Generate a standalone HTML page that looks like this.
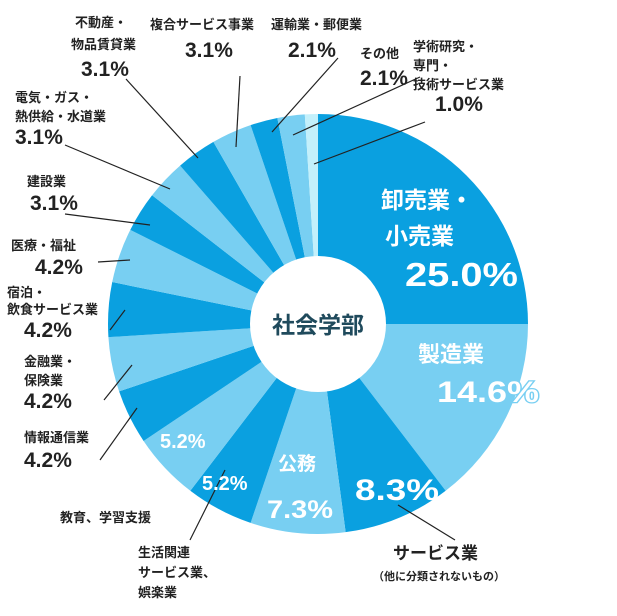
<!DOCTYPE html><html><head><meta charset="utf-8"><style>
body{margin:0;background:#fff;width:617px;height:616px;overflow:hidden}
svg{display:block}
text{font-family:"Liberation Sans","Noto Sans CJK JP",sans-serif;fill:#222;font-weight:bold}
.s{font-size:13px}.p{font-size:21px}
.w{fill:#fff}
</style></head><body>
<svg id="c" width="617" height="616" viewBox="0 0 617 616">
<g id="sl"></g>
<circle cx="318" cy="324" r="68" fill="#fff"/>
<text x="318" y="333" text-anchor="middle" style="font-size:23px;fill:#1f4a5c">社会学部</text>
<g stroke="#222" stroke-width="1.2" fill="none">
<line x1="314" y1="164" x2="425" y2="122"/>
<line x1="293" y1="135" x2="420" y2="77"/>
<line x1="272" y1="132" x2="338" y2="58"/>
<line x1="236" y1="147" x2="240" y2="76"/>
<line x1="198" y1="158" x2="126" y2="79"/>
<line x1="170" y1="189" x2="65" y2="145"/>
<line x1="150" y1="225" x2="65" y2="214"/>
<line x1="130" y1="260" x2="98" y2="262"/>
<line x1="125" y1="310" x2="110" y2="330"/>
<line x1="132" y1="365" x2="104" y2="400"/>
<line x1="137" y1="408" x2="100" y2="460"/>
<line x1="225" y1="470" x2="190" y2="540"/>
<line x1="398" y1="505" x2="455" y2="540"/>
</g>
<text x="75" y="27" class="s">不動産・</text>
<text x="71" y="49" class="s">物品賃貸業</text>
<text x="81" y="76" class="p">3.1%</text>
<text x="150" y="29" class="s">複合サービス事業</text>
<text x="185" y="57" class="p">3.1%</text>
<text x="271" y="29" class="s">運輸業・郵便業</text>
<text x="288" y="57" class="p">2.1%</text>
<text x="360" y="58" class="s">その他</text>
<text x="360" y="85" class="p">2.1%</text>
<text x="413" y="51" class="s">学術研究・</text>
<text x="413" y="70" class="s">専門・</text>
<text x="413" y="89" class="s">技術サービス業</text>
<text x="435" y="111" class="p">1.0%</text>
<text x="15" y="102" class="s">電気・ガス・</text>
<text x="15" y="121" class="s">熱供給・水道業</text>
<text x="15" y="144" class="p">3.1%</text>
<text x="27" y="186" class="s">建設業</text>
<text x="30" y="210" class="p">3.1%</text>
<text x="11" y="250" class="s">医療・福祉</text>
<text x="35" y="274" class="p">4.2%</text>
<text x="7" y="297" class="s">宿泊・</text>
<text x="7" y="314" class="s">飲食サービス業</text>
<text x="24" y="337" class="p">4.2%</text>
<text x="24" y="366" class="s">金融業・</text>
<text x="24" y="385" class="s">保険業</text>
<text x="24" y="408" class="p">4.2%</text>
<text x="24" y="442" class="s">情報通信業</text>
<text x="24" y="467" class="p">4.2%</text>
<text x="60" y="522" class="s">教育、学習支援</text>
<text x="138" y="557" class="s">生活関連</text>
<text x="138" y="577" class="s">サービス業、</text>
<text x="138" y="597" class="s">娯楽業</text>
<text x="393" y="559" style="font-size:17px">サービス業</text>
<text x="373" y="580" style="font-size:11px">（他に分類されないもの）</text>
<text x="381" y="208" class="w" style="font-size:23px">卸売業・</text>
<text x="385" y="244" class="w" style="font-size:23px">小売業</text>
<text x="405" y="286" class="w" style="font-size:33px" textLength="113" lengthAdjust="spacingAndGlyphs">25.0%</text>
<text x="418" y="362" class="w" style="font-size:22px">製造業</text>
<text x="437" y="402" class="w" style="font-size:30px;stroke:#78cff2;stroke-width:2.5;paint-order:stroke" textLength="102" lengthAdjust="spacingAndGlyphs">14.6%</text>
<text x="355" y="500" class="w" style="font-size:30px" textLength="84" lengthAdjust="spacingAndGlyphs">8.3%</text>
<text x="278" y="470" class="w" style="font-size:19px">公務</text>
<text x="267" y="518" class="w" style="font-size:25px" textLength="66" lengthAdjust="spacingAndGlyphs">7.3%</text>
<text x="202" y="490" class="w" style="font-size:20px">5.2%</text>
<text x="160" y="448" class="w" style="font-size:20px">5.2%</text>
</svg>
<script>
var v=[25,14.6,8.3,7.3,5.2,5.2,4.2,4.2,4.2,4.2,3.1,3.1,3.1,3.1,2.1,2.1,1.0];
var cx=318,cy=324,R=210,a=0,h='';
for(var i=0;i<v.length;i++){
var c=i==16?'#c3f0fb':(i%2?'#78cff2':'#0aa0e0');
var b=a+v[i]/100*2*Math.PI;
var x1=cx+R*Math.sin(a),y1=cy-R*Math.cos(a),x2=cx+R*Math.sin(b),y2=cy-R*Math.cos(b);
h+='<path d="M'+cx+' '+cy+'L'+x1+' '+y1+'A'+R+' '+R+' 0 '+(b-a>Math.PI?1:0)+' 1 '+x2+' '+y2+'Z" fill="'+c+'"/>';
a=b;}
document.getElementById('sl').innerHTML=h;
</script>
</body></html>
